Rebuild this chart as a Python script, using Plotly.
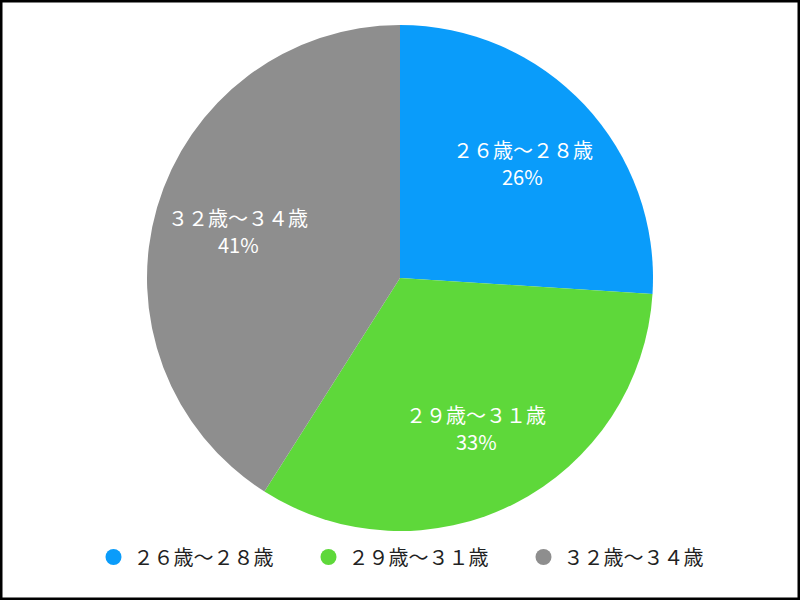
import math
import plotly.graph_objects as go

labels = ["２６歳～２８歳", "２９歳～３１歳", "３２歳～３４歳"]
values = [26, 33, 41]
colors = ["#0A9CFA", "#5ED83A", "#8E8E8E"]

FONT = "Noto Sans CJK JP, Helvetica, Arial, sans-serif"
W, H = 800, 600
DX0, DX1, DY0, DY1 = 147 / W, 653 / W, 1 - 531 / H, 1 - 25 / H

fig = go.Figure()
fig.add_trace(go.Pie(
    labels=labels,
    values=values,
    sort=False,
    direction="clockwise",
    rotation=0,
    marker=dict(colors=colors, line=dict(width=0)),
    textinfo="none",
    hoverinfo="label+percent",
    showlegend=False,
    domain=dict(x=[DX0, DX1], y=[DY0, DY1]),
))

for lab, col in zip(labels, colors):
    fig.add_trace(go.Scatter(
        x=[None], y=[None], mode="markers", name=lab,
        marker=dict(symbol="circle", size=16, color=col),
        showlegend=True,
    ))

# slice labels placed along each slice's bisector
total = sum(values)
cx_px = (DX0 + DX1) / 2 * W
cy_px = (1 - (DY0 + DY1) / 2) * H
R = (DX1 - DX0) * W / 2
rr = 0.665 * R
annotations = []
cum = 0
for lab, v in zip(labels, values):
    mid = (cum + v / 2) / total * 2 * math.pi
    cum += v
    px = cx_px + rr * math.sin(mid)
    py = cy_px - rr * math.cos(mid)
    pct = f"{round(v / total * 100)}%"
    for txt, off in ((lab, -13.5), (pct, 13.5)):
        annotations.append(dict(
            x=px / W, y=1 - (py + off) / H, xref="paper", yref="paper",
            text=txt, showarrow=False, xanchor="center", yanchor="middle",
            font=dict(color="white", size=20, family=FONT),
        ))

fig.update_layout(
    width=W, height=H,
    margin=dict(l=0, r=0, t=0, b=0),
    paper_bgcolor="white", plot_bgcolor="white",
    xaxis=dict(visible=False), yaxis=dict(visible=False),
    annotations=annotations,
    legend=dict(
        orientation="h", x=0.52, xanchor="center", y=1 - 557 / H, yanchor="middle",
        font=dict(size=20, color="#222222", family=FONT),
        entrywidth=170, entrywidthmode="pixels",
        itemsizing="trace",
    ),
    shapes=[dict(type="rect", xref="paper", yref="paper", x0=0, x1=1, y0=0, y1=1,
                 line=dict(color="black", width=5), fillcolor="rgba(0,0,0,0)", layer="above")],
)

fig.write_html("out.html", config={"displayModeBar": False},
               post_script="document.body.style.margin='0';document.body.style.overflow='hidden';")
